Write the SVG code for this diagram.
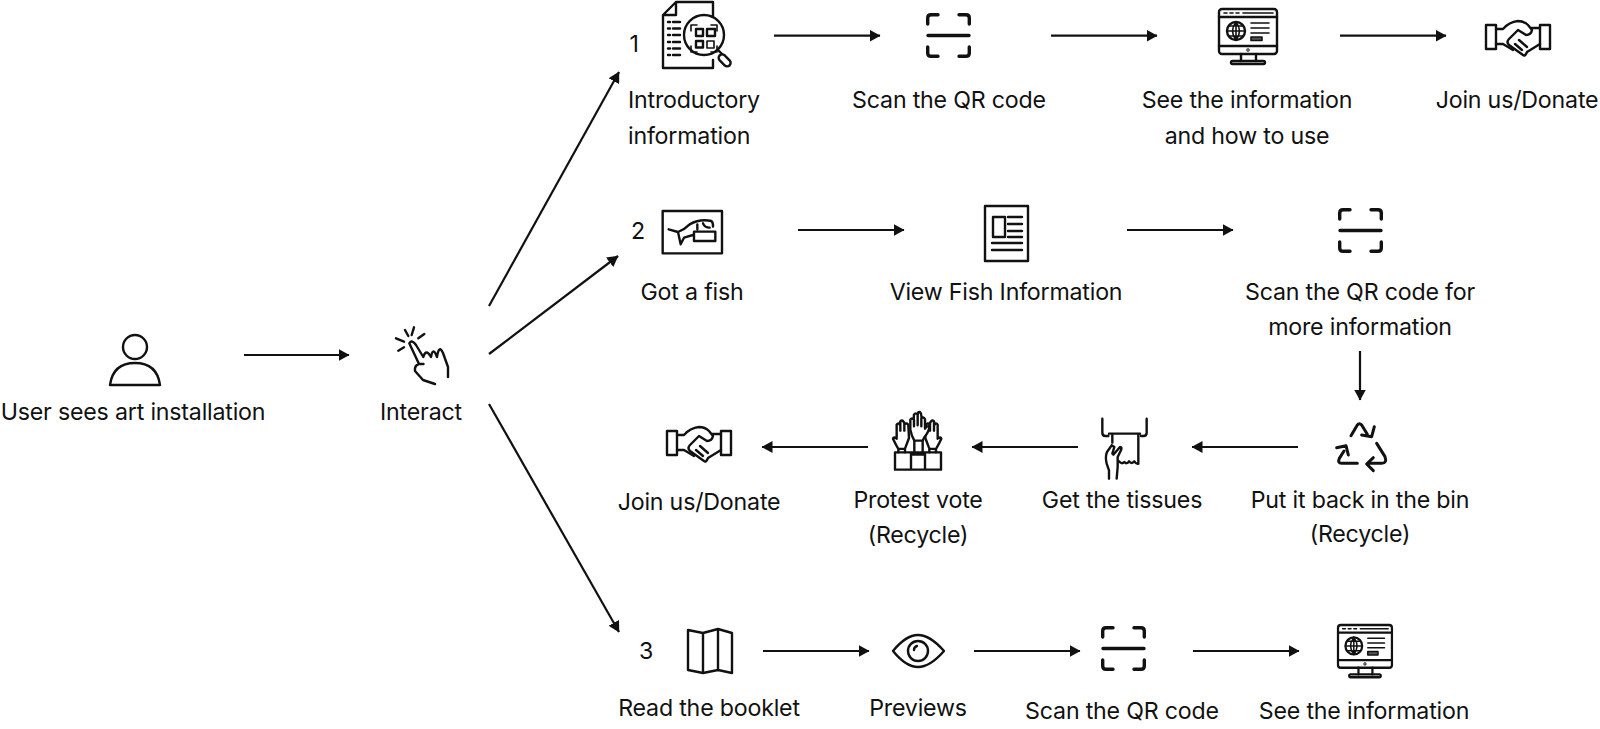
<svg xmlns="http://www.w3.org/2000/svg" width="1600" height="729" viewBox="0 0 1600 729">
<style>
text{font-family:"Inter","Liberation Sans",sans-serif;font-size:23.2px;letter-spacing:-.2px;fill:#111;text-anchor:middle}
.l{text-anchor:start}
.i{fill:none;stroke:#111;stroke-width:2.4;stroke-linecap:round;stroke-linejoin:round}
.t{stroke-width:1.6}
.b{stroke-width:3.4}
.z{stroke-width:7.200}
.c line{stroke:#111;stroke-width:2.200;marker-end:url(#a)}
</style>
<defs>
<marker id="a" markerUnits="userSpaceOnUse" markerWidth="11" markerHeight="12" refX="10.500" refY="6" orient="auto"><path d="M0 0L11 6L0 12Z" fill="#111"/></marker>
<g id="scan" class="i b">
<path d="M1.700 11V5Q1.700 1.700 5 1.700H12M33 1.700H40Q43.300 1.700 43.300 5V11M1.700 34V40Q1.700 43.300 5 43.300H12M33 43.300H40Q43.300 43.300 43.300 40V34M2 22.500H43"/>
</g>
<g id="monitor" class="i">
<rect x="0" y="0" width="58" height="45" rx="3"/>
<path d="M0 8H58M0 37H58M22 45V52M37 45V52"/>
<rect x="12" y="52" width="34" height="3" rx="1.500"/>
<circle cx="17" cy="22" r="9"/>
<path class="t" d="M8 22H26M9.500 17H24.500M9.500 27H24.500M17 13V31M17 13Q10 22 17 31M17 13Q24 22 17 31"/>
<path class="t" d="M32 14H50M32 19H50M32 24H50"/>
<rect class="t" x="32" y="28" width="11" height="3.500" fill="#555"/>
<path d="M5 4H8M11 4H14M17 4H20M24 4H54" class="t"/>
<circle cx="29" cy="41" r=".5"/>
</g>
<g id="hands" class="i">
<rect x="0" y="4" width="10" height="24"/>
<rect x="54" y="4" width="10" height="24"/>
<path d="M10 8H17Q23 1 32 0Q38 0 42 4L46 9Q45 14 40 14L32 9L23 18Q20 21 23 24L37 34Q39 36 41 31L54 23"/>
<path d="M10 23H17L27 29M54 7H45M33 19L41 26M29 23L36 29"/>
</g>
</defs>
<g id="connectors" class="c">
<line x1="244" y1="355" x2="349" y2="355"/>
<line x1="489" y1="306" x2="619" y2="72"/>
<line x1="489" y1="354" x2="618" y2="256"/>
<line x1="489" y1="404" x2="619" y2="632"/>
<line x1="774" y1="35.700" x2="880" y2="35.700"/>
<line x1="1051" y1="35.700" x2="1157" y2="35.700"/>
<line x1="1340" y1="35.700" x2="1446" y2="35.700"/>
<line x1="798" y1="230" x2="904" y2="230"/>
<line x1="1127" y1="230" x2="1233" y2="230"/>
<line x1="1360" y1="351" x2="1360" y2="400"/>
<line x1="1298" y1="447" x2="1192" y2="447"/>
<line x1="1078" y1="447" x2="972" y2="447"/>
<line x1="868" y1="447" x2="762" y2="447"/>
<line x1="763" y1="651" x2="869" y2="651"/>
<line x1="974" y1="651" x2="1080" y2="651"/>
<line x1="1193" y1="651" x2="1299" y2="651"/>
</g>
<g id="user"><g class="i"><circle cx="135" cy="347" r="12"/><path d="M110 385Q113 363 135 363Q157 363 160 385Z"/></g><text x="133" y="420">User sees art installation</text></g>
<g id="interact"><g class="i">
<path d="M405 330L408.300 336M414 327.300L411.700 335M424.300 334L418.300 338.300M396 338.300L404 341.700M398.300 350.700L404 347.300"/>
<path d="M409.300 343.300Q412 339 416 345L423.300 357Q426 348 431 357Q433 346 437 357Q439 344 443 353L448 367V377M409.300 343.300L419 364L423.500 364Q414 363 415 371L423 380L435 384"/>
</g><text x="421" y="420">Interact</text></g>
<g id="n1"><text x="634" y="52">1</text><g class="i">
<path d="M663 15L676 2H713V30M713 60V68H663V15H676V2"/>
<path d="M668 22H670M673 22H680M668 28.500H670M673 28.500H680M668 35H670M673 35H680M668 42H670M673 42H680M668 48.500H670M673 48.500H680M668 55H670M673 55H680"/>
<circle cx="704" cy="35" r="20" fill="#fff"/>
<path d="M718 50L722 54"/><rect x="721" y="53" width="7" height="14" rx="3.500" transform="rotate(-45 725 60)"/>
<path class="t" d="M691 31V25H697M711 25H717V31M691 46V52H697M717 46V52H711"/>
<rect x="696" y="29" width="7" height="7"/><rect x="707" y="29" width="8" height="7"/><rect x="696" y="41" width="7" height="6.500"/><rect class="t" x="707" y="41" width="7" height="7"/>
</g><text class="l" x="628" y="107.500">Introductory</text><text class="l" x="628" y="143.500">information</text></g>
<g id="scan1"><use href="#scan" x="926" y="13"/><text x="949" y="107.500">Scan the QR code</text></g>
<g id="info1"><use href="#monitor" x="1219" y="9"/><text x="1247" y="107.500">See the information</text><text x="1247" y="143.500">and how to use</text></g>
<g id="join1"><use href="#hands" x="1486" y="21"/><text x="1517" y="107.500">Join us/Donate</text></g>
<g id="n2"><text x="638" y="239">2</text><g transform="translate(658 206) scale(.3333)"><g class="i z"><rect x="14" y="15" width="178" height="127"/>
<path d="M32 70L60 78L68 115L78 95L105 87M60 78Q80 70 95 55Q125 38 160 45Q166 50 165 62M118 55V70M135 52Q140 65 155 65M108 77H172V105H108Z"/></g></g><text x="692" y="299.500">Got a fish</text></g>
<g id="view"><g class="i"><rect x="985" y="206" width="43" height="55"/><rect x="993" y="217" width="12" height="20"/><path d="M1008 217H1022M1008 224H1022M1008 231H1022M1008 237H1022M992 243H1022M992 250H1022"/></g><text x="1006" y="299.500">View Fish Information</text></g>
<g id="scan2"><use href="#scan" x="1338" y="208"/><text x="1360" y="299.500">Scan the QR code for</text><text x="1360" y="334.500">more information</text></g>
<g id="recycle"><g transform="translate(1330 415) scale(.3333)"><g class="i" style="stroke-width:9"><path d="M63 62L82 30Q88 22 95 30L112 58M95 60L125 65L133 35M82 145H35Q22 145 28 130L42 108M20 98L48 92L55 120M140 85L165 125Q172 145 155 145H115M130 128L110 147L130 167"/></g></g><text x="1360" y="508">Put it back in the bin</text><text x="1360" y="542">(Recycle)</text></g>
<g id="tissues"><g transform="translate(1095 412) scale(.3333)"><g class="i z"><path d="M22 20V62Q22 72 32 72H40M155 20V62Q155 72 145 72H138M42 65H135M52 65V92M130 65V155M72 148Q80 158 88 150Q95 158 102 148Q110 158 118 148Q125 158 130 155M50 100L36 120Q30 135 35 155L42 175V200M50 100L58 105L52 125M55 128L75 105Q82 105 78 115L68 135V165L65 200"/></g></g><text x="1122" y="508">Get the tissues</text></g>
<g id="protest"><g transform="translate(885 408) scale(.3333)"><g class="i z"><path d="M30 133H168V185H30ZM78 140H120V185H78ZM78 133V140M120 133V140"/>
<path d="M40 123Q30 105 24 92Q26 85 35 92V50Q40 42 44 50L46 40Q52 34 56 42L60 48Q68 44 70 52L72 90L60 122ZM40 123V133M60 122V133M46 42V68M58 44V68"/>
<path d="M153 123Q163 105 169 92Q167 85 158 92V50Q153 42 149 50L147 40Q141 34 137 42L133 48Q125 44 123 52L121 90L133 122ZM153 123V133M133 122V133M147 42V68M135 44V68"/>
<path fill="#fff" d="M88 98Q80 85 76 65V35Q81 27 86 35L87 20Q92 12 98 20L100 13Q105 10 108 17L110 30Q116 26 120 34V62Q126 52 133 55Q133 70 118 88L113 98ZM87 35V55M98 20V52M109 30V55M88 98V133M113 98V133"/></g></g><text x="918" y="508">Protest vote</text><text x="918" y="543">(Recycle)</text></g>
<g id="join2"><use href="#hands" x="667" y="427"/><text x="699" y="510">Join us/Donate</text></g>
<g id="n3"><text x="646" y="659">3</text><g class="i"><path d="M688 630L703 633L718 629L732 633V673L718 670L703 673L688 670ZM703 633V673M718 629V670"/></g><text x="709" y="716">Read the booklet</text></g>
<g id="eye"><g class="i"><path d="M893 651Q906 635 918 635Q930 635 944 651Q930 667 918 667Q906 667 893 651Z"/><circle cx="918" cy="651" r="10"/><path d="M914 650Q914 647 917 646"/></g><text x="918" y="716">Previews</text></g>
<g id="scan3"><use href="#scan" x="1101" y="626"/><text x="1122" y="719">Scan the QR code</text></g>
<g id="info2"><g transform="translate(1338 625) scale(.93 .95)"><use href="#monitor"/></g><text x="1364" y="719">See the information</text></g>
</svg>
